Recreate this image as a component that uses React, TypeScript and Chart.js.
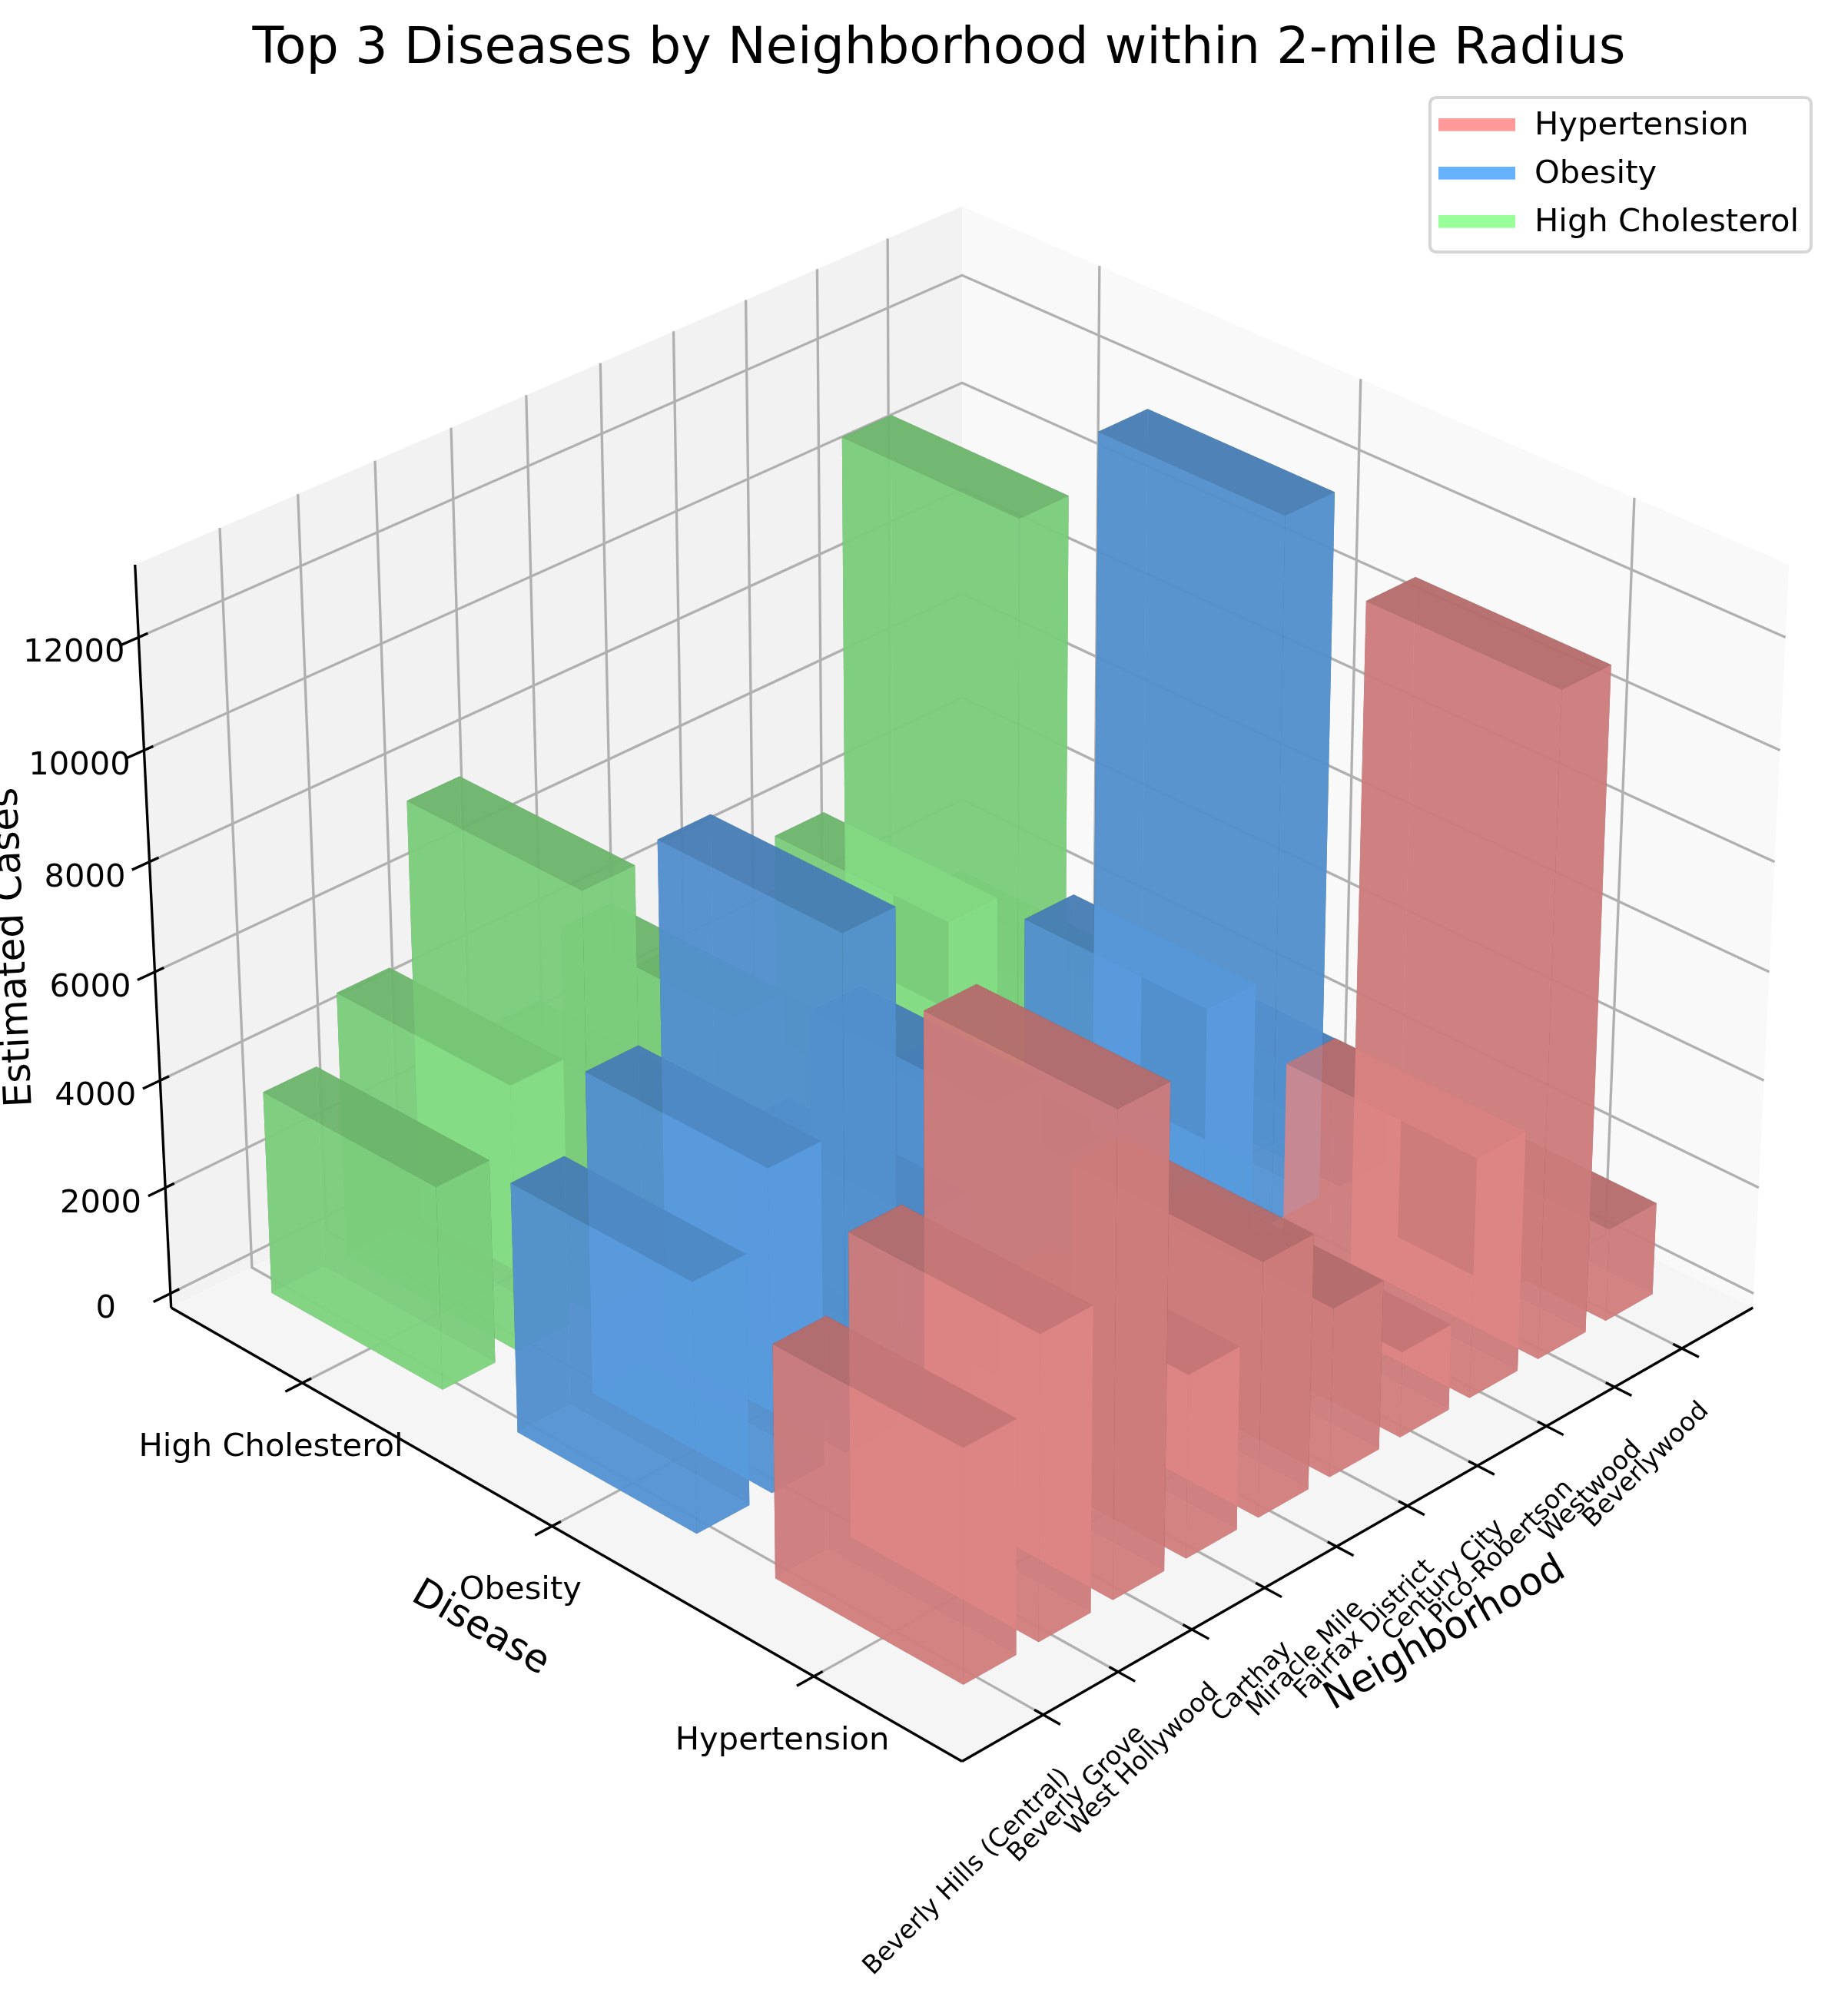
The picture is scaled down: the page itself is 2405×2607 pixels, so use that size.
import React, { useEffect, useRef } from "react";
import { Chart, registerables } from "chart.js";

Chart.register(...registerables);

const neighborhoods = ["Beverly Hills (Central)", "Beverly Grove", "West Hollywood", "Carthay", "Miracle Mile", "Fairfax District", "Century City", "Pico-Robertson", "Westwood", "Beverlywood"];
const diseases = ["Hypertension", "Obesity", "High Cholesterol"];
const hypertensionCases = [4265, 5550, 8780, 3360, 4680, 3120, 1585, 4440, 12145, 1720];
const obesityCases = [4600, 5930, 9425, 3600, 5000, 3340, 1700, 4720, 13000, 1840];
const cholesterolCases = [3770, 4935, 7810, 2985, 4160, 2775, 1410, 3945, 10800, 1530];
const caseTicks = [0, 2000, 4000, 6000, 8000, 10000, 12000];
const seriesColors = [[255, 153, 153], [102, 178, 255], [153, 255, 153]];
const legendColors = ["#ff9999", "#66b2ff", "#99ff99"];

const W = 2405, H = 2607;
const XLIM = [-1.07, 10.07], YLIM = [-0.545, 2.545], ZLIM = [-270.8, 13270.8];
const BAR_HALF = 0.35, BAR_ALPHA = 0.8;
const K = 12500, CX = 1252, CY = 1229.3;
const FONT = '"DejaVu Sans"';

const el = (30 * Math.PI) / 180, az = (225 * Math.PI) / 180;
const wv = [Math.cos(el) * Math.cos(az), Math.cos(el) * Math.sin(az), Math.sin(el)];
const uv = [-Math.sin(az), Math.cos(az), 0];
const vv = [wv[1] * uv[2] - wv[2] * uv[1], wv[2] * uv[0] - wv[0] * uv[2], wv[0] * uv[1] - wv[1] * uv[0]];
const BX = 1.1905, BZ = 0.8929;
const dot = (a: number[], b: number[]) => a[0] * b[0] + a[1] * b[1] + a[2] * b[2];

function projN(nx: number, ny: number, nz: number) {
  const d = [(nx - 0.5) * BX, (ny - 0.5) * BX, (nz - 0.5) * BZ];
  const D = 10 - dot(wv, d);
  return { x: dot(uv, d) / D, y: dot(vv, d) / D, tz: -10 / D };
}
const nx = (x: number) => (x - XLIM[0]) / (XLIM[1] - XLIM[0]);
const ny = (y: number) => (y - YLIM[0]) / (YLIM[1] - YLIM[0]);
const nz = (z: number) => (z - ZLIM[0]) / (ZLIM[1] - ZLIM[0]);
const proj = (x: number, y: number, z: number) => projN(nx(x), ny(y), nz(z));

const solid = (pts: { x: number; y: number }[], color: string) => ({
  data: pts.map((p) => ({ x: p.x, y: p.y })),
  showLine: true, fill: "shape", backgroundColor: color, borderWidth: 0, pointRadius: 0, tension: 0,
});
const stroke = (pts: { x: number; y: number }[], color: string, width: number) => ({
  data: pts.map((p) => ({ x: p.x, y: p.y })),
  showLine: true, fill: false, borderColor: color, borderWidth: width, pointRadius: 0, tension: 0, borderCapStyle: "butt",
});

function buildDatasets() {
  const [xa, xb] = XLIM, [ya, yb] = YLIM, [za, zb] = ZLIM;
  const out: any[] = [];
  out.push(solid([proj(xb, ya, za), proj(xb, yb, za), proj(xb, yb, zb), proj(xb, ya, zb)], "rgb(249,249,249)"));
  out.push(solid([proj(xa, yb, za), proj(xb, yb, za), proj(xb, yb, zb), proj(xa, yb, zb)], "rgb(242,242,242)"));
  out.push(solid([proj(xa, ya, za), proj(xb, ya, za), proj(xb, yb, za), proj(xa, yb, za)], "rgb(245,245,245)"));
  const GRID = "#b0b0b0", GW = 3.33;
  neighborhoods.forEach((_, i) => out.push(stroke([proj(i, ya, za), proj(i, yb, za), proj(i, yb, zb)], GRID, GW)));
  diseases.forEach((_, j) => out.push(stroke([proj(xa, j, za), proj(xb, j, za), proj(xb, j, zb)], GRID, GW)));
  caseTicks.forEach((z) => out.push(stroke([proj(xa, yb, z), proj(xb, yb, z), proj(xb, ya, z)], GRID, GW)));
  const AX = "#000000", AW = 3.33;
  out.push(stroke([proj(xa, ya, za), proj(xb, ya, za)], AX, AW));
  out.push(stroke([proj(xa, ya, za), proj(xa, yb, za)], AX, AW));
  out.push(stroke([proj(xa, yb, za), proj(xa, yb, zb)], AX, AW));
  const outF = 0.02, inF = 0.0105;
  neighborhoods.forEach((_, i) => out.push(stroke([projN(nx(i), -outF, 0), projN(nx(i), inF, 0)], AX, AW)));
  diseases.forEach((_, j) => out.push(stroke([projN(-outF, ny(j), 0), projN(inF, ny(j), 0)], AX, AW)));
  caseTicks.forEach((z) => out.push(stroke([projN(-outF, 1, nz(z)), projN(inF, 1, nz(z))], AX, AW)));

  const series = [hypertensionCases, obesityCases, cholesterolCases];
  const faces: { pts: any[]; tz: number; color: string }[] = [];
  [2, 1, 0].forEach((j) => {
    const c = seriesColors[j];
    const col = (s: number) => `rgba(${c[0] * s},${c[1] * s},${c[2] * s},${BAR_ALPHA})`;
    series[j].forEach((h, i) => {
      const x0 = i - BAR_HALF, x1 = i + BAR_HALF, y0 = j - BAR_HALF, y1 = j + BAR_HALF;
      const add = (v: number[][], s: number) => {
        const pts = v.map((q) => proj(q[0], q[1], q[2]));
        faces.push({ pts, tz: pts.reduce((a, p) => a + p.tz, 0) / pts.length, color: col(s) });
      };
      add([[x0, y0, 0], [x1, y0, 0], [x1, y1, 0], [x0, y1, 0]], 0.5333);
      add([[x0, y0, h], [x1, y0, h], [x1, y1, h], [x0, y1, h]], 0.7667);
      add([[x0, y0, 0], [x1, y0, 0], [x1, y0, h], [x0, y0, h]], 0.8833);
      add([[x0, y1, 0], [x1, y1, 0], [x1, y1, h], [x0, y1, h]], 0.4167);
      add([[x0, y0, 0], [x0, y1, 0], [x0, y1, h], [x0, y0, h]], 0.8833);
      add([[x1, y0, 0], [x1, y1, 0], [x1, y1, h], [x1, y0, h]], 0.4167);
    });
  });
  faces.sort((a, b) => b.tz - a.tz);
  faces.forEach((f) => out.push(solid(f.pts, f.color)));
  return out.reverse();
}

const textPlugin = {
  id: "text3d",
  afterDraw(chart: any) {
    const { ctx, scales } = chart;
    const [ya, xa] = [YLIM[0], XLIM[0]];
    const px = (p: { x: number; y: number }) => [scales.x.getPixelForValue(p.x), scales.y.getPixelForValue(p.y)];
    const put = (s: string, x: number, y: number, size: number, rot = 0, align: CanvasTextAlign = "center") => {
      ctx.save();
      ctx.translate(x, y);
      ctx.rotate((rot * Math.PI) / 180);
      ctx.font = `${size}px ${FONT}`;
      ctx.fillStyle = "#000";
      ctx.textAlign = align;
      ctx.textBaseline = "middle";
      ctx.fillText(s, 0, 0);
      ctx.restore();
    };
    put("Top 3 Diseases by Neighborhood within 2-mile Radius", 1222, 65, 66.7);
    neighborhoods.forEach((n, i) => {
      const [a, b] = px(proj(i, ya, ZLIM[0]));
      put(n, a + 30, b + 76, 33.3, -45, "right");
    });
    diseases.forEach((n, j) => {
      const [a, b] = px(proj(xa, j, ZLIM[0]));
      put(n, a - 41, b + 84, 41.67);
    });
    caseTicks.forEach((z) => {
      const [a, b] = px(proj(xa, YLIM[1], z));
      put(String(z), a - 84, b + 21, 41.67);
    });
    put("Neighborhood", 1881, 2127, 50, -30);
    put("Disease", 625, 2120, 50, 30);
    put("Estimated Cases", 18, 1233, 50, -92.7);

    ctx.save();
    ctx.beginPath();
    ctx.roundRect(1871 - 10, 127, 496, 201, 8);
    ctx.fillStyle = "rgba(255,255,255,0.8)";
    ctx.fill();
    ctx.strokeStyle = "#d6d6d6";
    ctx.lineWidth = 4.17;
    ctx.stroke();
    ctx.restore();
    diseases.forEach((n, j) => {
      const y = 162.3 + j * 63;
      ctx.fillStyle = legendColors[j];
      ctx.fillRect(1872, y - 8.33, 100, 16.67);
      put(n, 1997, y + 2, 41.67, 0, "left");
    });
  },
};

export default function App() {
  const ref = useRef<HTMLCanvasElement | null>(null);
  useEffect(() => {
    document.body.style.margin = "0";
    document.body.style.background = "#fff";
    const chart = new Chart(ref.current as HTMLCanvasElement, {
      type: "scatter",
      data: { datasets: buildDatasets() },
      options: {
        animation: false,
        responsive: false,
        devicePixelRatio: 1,
        layout: { padding: 0 },
        plugins: { legend: { display: false }, tooltip: { enabled: false }, title: { display: false } },
        events: [],
        scales: {
          x: { type: "linear", display: false, min: -CX / K, max: (W - CX) / K },
          y: { type: "linear", display: false, min: (CY - H) / K, max: CY / K },
        },
      },
      plugins: [textPlugin],
    } as any);
    return () => chart.destroy();
  }, []);
  return <canvas ref={ref} width={W} height={H} style={{ display: "block", width: W, height: H }} />;
}
